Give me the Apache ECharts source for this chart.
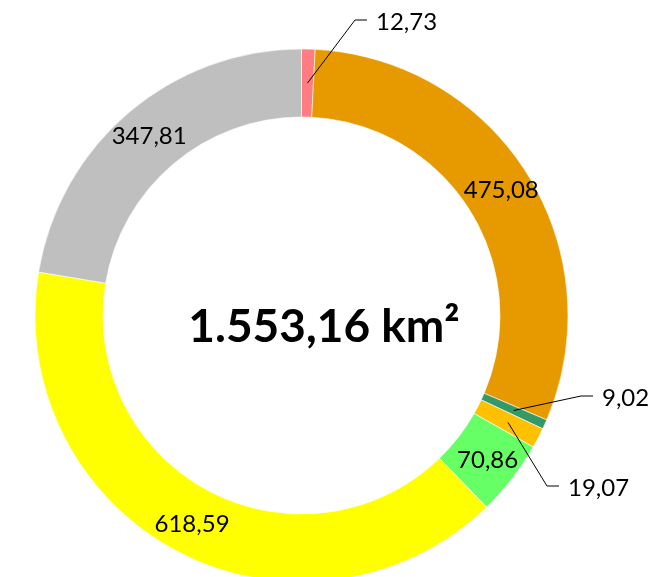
<!DOCTYPE html>
<html>
<head>
<meta charset="utf-8">
<script src="https://cdn.jsdelivr.net/npm/echarts@6/dist/echarts.min.js"></script>
<style>
html,body{margin:0;padding:0;background:#fff;}
#chart{width:653px;height:577px;}
</style>
</head>
<body>
<div id="chart"></div>
<script>
const categories = ['Kategorie 1','Kategorie 2','Kategorie 3','Kategorie 4','Kategorie 5','Kategorie 6','Kategorie 7'];
const values = [12.73, 475.08, 9.02, 19.07, 70.86, 618.59, 347.81];
const totalLabel = '1.553,16 km²';
const colors = ['#FF7C80','#E69A00','#339966','#FFC000','#66FF66','#FFFF00','#BFBFBF'];

const CX = 301.5, CY = 315.5, R_IN = 198.5, R_OUT = 266.5;
// outside label placement (text left edge, vertical middle)
const outsideLabels = { 0: [376, 22], 2: [602, 398], 3: [568, 488] };

const fmt = v => v.toFixed(2).replace('.', ',');
const total = values.reduce((a, b) => a + b, 0);
const midAngles = [];
let acc = 0;
values.forEach(v => { midAngles.push((acc + v / 2) / total * 2 * Math.PI); acc += v; });

const isOutside = i => outsideLabels[i] !== undefined;

const baseData = values.map((v, i) => ({
  name: categories[i],
  value: v,
  itemStyle: { color: colors[i] },
  label: { show: !isOutside(i), position: 'inside' },
  labelLine: { show: false }
}));

const overlayData = values.map((v, i) => ({
  name: categories[i],
  value: v,
  label: { show: isOutside(i), position: 'outside' },
  labelLine: { show: isOutside(i), lineStyle: { color: '#000', width: 1 } }
}));

const labelFont = { fontFamily: 'Lato', fontSize: 24, color: '#000' };

const chart = echarts.init(document.getElementById('chart'), null, { renderer: 'canvas' });
chart.setOption({
  animation: false,
  backgroundColor: '#fff',
  title: {
    text: totalLabel,
    left: 319, top: 322,
    textAlign: 'center', textVerticalAlign: 'middle',
    textStyle: { fontFamily: 'Lato', fontWeight: 'bold', fontSize: 46, color: '#000' }
  },
  series: [{
    type: 'pie',
    z: 2,
    center: [CX, CY],
    radius: [R_IN, R_OUT],
    startAngle: 90,
    clockwise: true,
    avoidLabelOverlap: false,
    itemStyle: { borderColor: '#fff', borderWidth: 0.6 },
    label: Object.assign({ formatter: p => fmt(p.value) }, labelFont),
    data: baseData
  }, {
    type: 'pie',
    z: 5,
    silent: true,
    center: [CX, CY],
    radius: [R_IN, R_OUT],
    startAngle: 90,
    clockwise: true,
    avoidLabelOverlap: false,
    itemStyle: { color: 'rgba(0,0,0,0)', borderWidth: 0 },
    emphasis: { disabled: true },
    label: Object.assign({ formatter: p => fmt(p.value) }, labelFont),
    labelLine: { minTurnAngle: 0, maxSurfaceAngle: 180 },
    labelLayout: function (params) {
      const pos = outsideLabels[params.dataIndex];
      if (!pos) return {};
      const a = midAngles[params.dataIndex];
      const rm = (R_IN + R_OUT) / 2;
      const anchor = [CX + rm * Math.sin(a), CY - rm * Math.cos(a)];
      const lx = pos[0], ly = pos[1];
      return {
        x: lx, y: ly, align: 'left', verticalAlign: 'middle',
        labelLinePoints: [anchor, [lx - 21, ly - 2], [lx - 9, ly - 2]]
      };
    },
    data: overlayData
  }]
});
</script>
</body>
</html>
